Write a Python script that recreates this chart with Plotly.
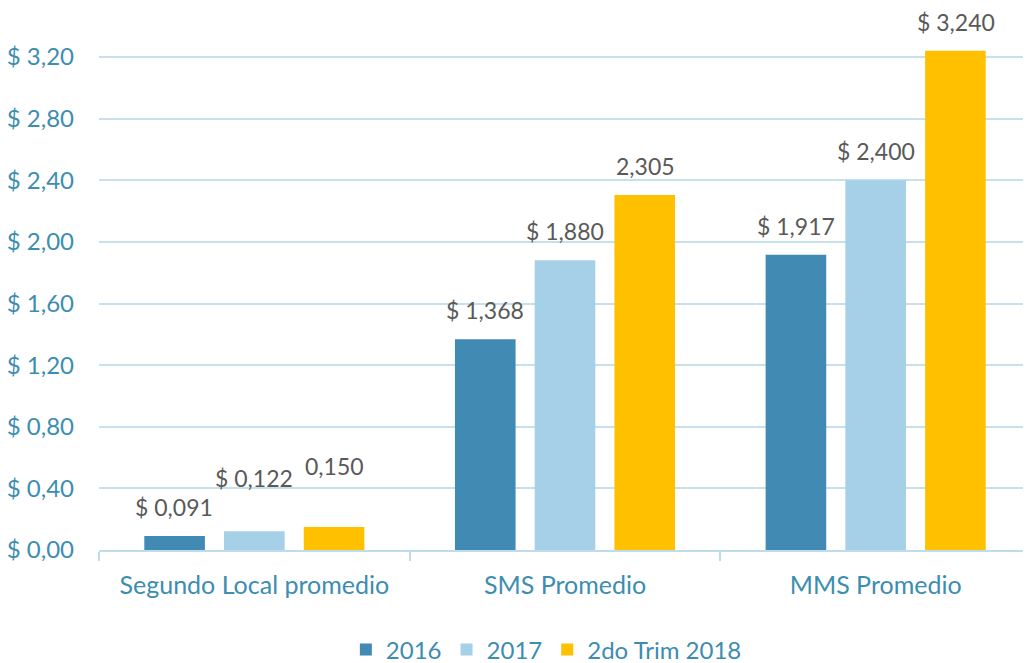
import plotly.graph_objects as go

categories = ["Segundo Local promedio", "SMS Promedio", "MMS Promedio"]
series_names = ["2016", "2017", "2do Trim 2018"]
values_2016 = [0.091, 1.368, 1.917]
values_2017 = [0.122, 1.880, 2.400]
values_2018 = [0.150, 2.305, 3.240]
labels_2016 = ["$ 0,091", "$ 1,368", "$ 1,917"]
labels_2017 = ["$ 0,122", "$ 1,880", "$ 2,400"]
labels_2018 = ["0,150", "2,305", "$ 3,240"]
tick_vals = [0, 0.4, 0.8, 1.2, 1.6, 2.0, 2.4, 2.8, 3.2]
tick_text = ["$ 0,00", "$ 0,40", "$ 0,80", "$ 1,20", "$ 1,60", "$ 2,00", "$ 2,40", "$ 2,80", "$ 3,20"]

colors = ["#418AB3", "#A6CFE8", "#FFC000"]
all_values = [values_2016, values_2017, values_2018]
all_labels = [labels_2016, labels_2017, labels_2018]
# extra vertical lift of some labels (pixels), as in the original
extra_lift = [[0, 0, 0], [24, 0, 0], [32, 0, 0]]

FONT = "Lato"
BLUE_TXT = "#3C8DB0"

fig = go.Figure()
for name, vals, col in zip(series_names, all_values, colors):
    fig.add_trace(go.Bar(x=categories, y=vals, name=name, marker_color=col,
                         marker_line_width=0, hoverinfo="skip"))

annotations = []
for i, (vals, labs) in enumerate(zip(all_values, all_labels)):
    for j, (v, t) in enumerate(zip(vals, labs)):
        annotations.append(dict(x=categories[j], y=v, text=t, showarrow=False,
                                xref="x", yref="y", xshift=(i - 1) * 80,
                                yanchor="bottom", yshift=14 + extra_lift[i][j],
                                borderpad=0,
                                font=dict(family=FONT, size=23, color="#595959")))

fig.update_layout(
    width=1023, height=655,
    margin=dict(l=91, r=0, t=0, b=113),
    paper_bgcolor="white", plot_bgcolor="white",
    barmode="group", bargap=0.23, bargroupgap=0.24,
    font=dict(family=FONT, color=BLUE_TXT),
    annotations=annotations,
    showlegend=True,
    legend=dict(orientation="h", xref="paper", x=0.48, xanchor="center",
                yref="container", y=0.02, yanchor="middle",
                font=dict(family=FONT, size=24, color=BLUE_TXT), itemwidth=30,
                traceorder="normal"),
    xaxis=dict(showgrid=False, showline=True, linecolor="#BFDCEA", linewidth=2,
               ticks="outside", tickson="boundaries", ticklen=9, tickcolor="#BFDCEA",
               tickwidth=2, automargin=False, ticklabelstandoff=12,
               tickfont=dict(family=FONT, size=25, color=BLUE_TXT)),
    yaxis=dict(range=[0, 3.518], tickvals=tick_vals, ticktext=tick_text,
               showgrid=True, gridcolor="#C6E0EC", gridwidth=2, zeroline=False,
               ticklabelstandoff=24, automargin=False,
               tickfont=dict(family=FONT, size=24, color=BLUE_TXT)),
)

fig.write_html("out.html")
